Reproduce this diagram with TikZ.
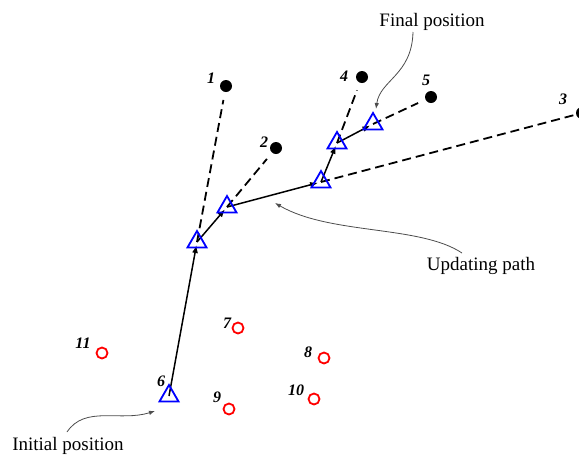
\documentclass[tikz,border=0pt]{standalone}
\usepackage{fontspec}
\setmainfont{Liberation Serif}
\usetikzlibrary{shapes.geometric,arrows.meta}
\begin{document}
\begin{tikzpicture}[x=1pt,y=-1pt,
  tri/.style={regular polygon,regular polygon sides=3,draw=blue,line width=1.8pt,minimum size=22pt,inner sep=0pt},
  anchorpt/.style={circle,fill=black,minimum size=12pt,inner sep=0pt},
  tag/.style={circle,draw=red,line width=1.8pt,minimum size=11pt,inner sep=0pt},
  num/.style={font=\fontsize{16}{19}\selectfont\bfseries\itshape,inner sep=0pt},
  caption/.style={font=\fontsize{19}{22}\selectfont,inner sep=0pt,anchor=base},
  dashline/.style={dashed,dash pattern=on 9pt off 5pt,line width=1.8pt},
  pathline/.style={line width=1.5pt,-{Latex[length=8pt,width=6pt]},shorten >=3pt},
  note/.style={black!70,line width=0.8pt,-{Latex[length=6pt,width=4.5pt]}}]
\useasboundingbox (0,0) rectangle (579,456);
% anchors
\node[anchorpt] (p1) at (226,86) {};
\node[anchorpt] (p2) at (276,148) {};
\node[anchorpt] (p3) at (582,113) {};
\node[anchorpt] (p4) at (362,77) {};
\node[anchorpt] (p5) at (431,97) {};
% tags
\node[tag] (p7) at (238,328) {};
\node[tag] (p8) at (324,358) {};
\node[tag] (p9) at (229,409) {};
\node[tag] (p10) at (314,399) {};
\node[tag] (p11) at (102,353) {};
% labels
\node[num] (l1) at (211,78) {1};
\node[num] (l2) at (264,142) {2};
\node[num] (l3) at (563,99) {3};
\node[num] (l4) at (344,76) {4};
\node[num] (l5) at (426,80) {5};
\node[num] (l6) at (161,381) {6};
\node[num] (l7) at (227,323) {7};
\node[num] (l8) at (308,352) {8};
\node[num] (l9) at (217,397) {9};
\node[num] (l10) at (296,390) {10};
\node[num] (l11) at (83,343) {11};
% path positions
\coordinate (c6) at (169,396);
\coordinate (ca) at (197,242);
\coordinate (cb) at (227,207);
\coordinate (cc) at (321,182);
\coordinate (cd) at (337,143);
\coordinate (ce) at (373,124);
% dashed measurement lines
\draw[dashline,shorten >=8pt] (ca) -- (p1);
\draw[dashline,shorten >=8pt] (cb) -- (p2);
\draw[dashline] (cc) -- (p3);
\draw[dashline,shorten >=8pt] (cd) -- (p4);
\draw[dashline,shorten >=8pt] (ce) -- (p5);
% updating path
\draw[pathline] (c6) -- (ca);
\draw[pathline] (ca) -- (cb);
\draw[pathline] (cb) -- (cc);
\draw[pathline] (cc) -- (cd);
\draw[pathline] (cd) -- (ce);
% triangles
\node[tri] (t6) at (c6) {};
\node[tri] (ta) at (ca) {};
\node[tri] (tb) at (cb) {};
\node[tri] (tc) at (cc) {};
\node[tri] (td) at (cd) {};
\node[tri] (te) at (ce) {};
% captions
\node[caption] (fin) at (432,26) {Final position};
\node[caption] (upd) at (481,270) {Updating path};
\node[caption] (ini) at (68,450) {Initial position};
\coordinate (finA) at (413,32);
\coordinate (finB) at (376,109);
\coordinate (updA) at (462,253);
\coordinate (updB) at (275,203);
\coordinate (iniA) at (67,432);
\coordinate (iniB) at (155,411);
\draw[note] (finA) .. controls (412,75) and (380,80) .. (finB);
\draw[note] (updA) .. controls (420,225) and (330,235) .. (updB);
\draw[note] (iniA) .. controls (85,405) and (120,422) .. (iniB);
\end{tikzpicture}
\end{document}
